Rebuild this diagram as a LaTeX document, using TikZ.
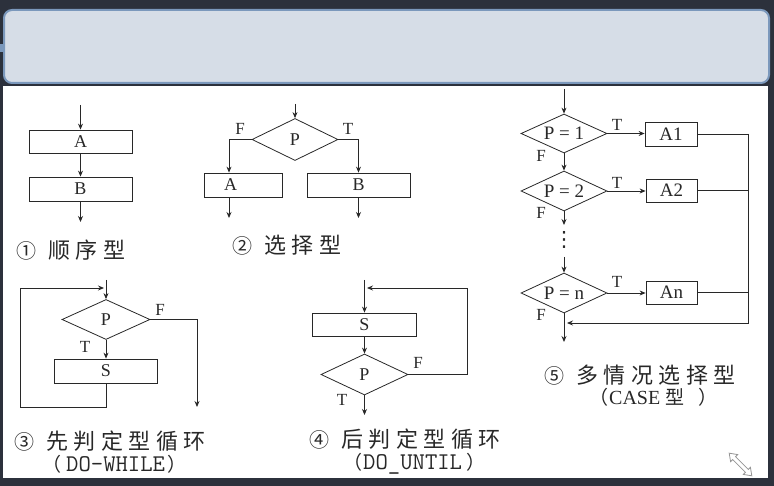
\documentclass[tikz,border=0pt]{standalone}
\usepackage{fontspec}
\usetikzlibrary{arrows.meta, shapes.geometric}
\setmainfont{Liberation Serif}
\newfontfamily\cjk[LetterSpace = 25]{Noto Sans CJK SC}
\newfontfamily\cjkplain{Noto Sans CJK SC}
\newfontfamily\sym{DejaVu Sans}
\definecolor{slate}{RGB}{44, 49, 60}
\definecolor{barfill}{RGB}{214, 221, 231}
\definecolor{barline}{RGB}{123, 152, 188}
\definecolor{ink}{RGB}{40, 40, 40}
\definecolor{iconline}{RGB}{150, 150, 150}
\newcommand{\circnum}[1]{{\cjkplain\fontsize{20}{20}\selectfont #1}\hspace{12pt}}

\begin{document}
\begin{tikzpicture}[x = 1pt, y = -1pt,
        wire/.style = {draw = ink, line width = 0.8pt},
        flow/.style = {wire, -{Stealth[length = 6pt, width = 5pt, inset = 2pt]}},
        box/.style = {wire, rectangle, inner sep = 0pt, minimum height = 24pt, text = ink, font = \fontsize{18}{18}\selectfont},
        test/.style = {wire, diamond, aspect = 2.2, inner sep = 0pt, minimum width = 86pt, minimum height = 40pt, text = ink, font = \fontsize{18}{18}\selectfont},
        tf/.style = {inner sep = 0pt, text = ink, font = \fontsize{17}{17}\selectfont},
        tag/.style = {anchor = west, inner sep = 0pt, text = ink, font = \cjk\fontsize{22}{22}\selectfont},
        note/.style = {anchor = west, inner sep = 0pt, text = ink, font = \fontsize{19}{19}\selectfont}]

                \fill [slate] (0, 0) rectangle (774, 486);
                \useasboundingbox (0, 0) rectangle (774, 486);
                \fill [barline] (0, 44) rectangle (3, 52);
                \draw [fill = barfill, draw = barline, line width = 2pt, rounded corners = 8pt] (4, 10) rectangle (769, 83);
                \fill [white] (3, 86) rectangle (768, 478);

                \node [box, minimum width = 103pt, minimum height = 23pt] (seqA) at (80.5, 141.5) {A};
                \node [box, minimum width = 103pt] (seqB) at (80.5, 189) {B};
                \coordinate (seqIn) at (80.5, 105);
                \coordinate (seqOut) at (80.5, 222);
                \draw [flow] (seqIn) -- (seqA);
                \draw [flow] (seqA) -- (seqB);
                \draw [flow] (seqB) -- (seqOut);
                \node [tag] (seqTag) at (16, 250) {\circnum{①}顺序型};

                \node [test, minimum height = 42pt] (selP) at (295, 139.5) {P};
                \node [box, text width = 78pt, align = left] (selA) at (243, 185) {\hspace{20pt}A};
                \node [box, minimum width = 103pt] (selB) at (358.5, 185) {B};
                \coordinate (selIn) at (295, 104);
                \coordinate (selLeft) at (229, 218);
                \coordinate (selRight) at (358.5, 218);
                \draw [flow] (selIn) -- (selP);
                \draw [flow] (selP.west) -| (selLeft |- selA.north);
                \draw [flow] (selP.east) -| (selB.north);
                \draw [flow] (selLeft |- selA.south) -- (selLeft);
                \draw [flow] (selB) -- (selRight);
                \node [tf] (selF) at (240, 129) {F};
                \node [tf] (selT) at (348, 129) {T};
                \node [tag] (selTag) at (232, 245) {\circnum{②}选择型};

                \node [test, minimum width = 88pt] (whP) at (106, 319.5) {P};
                \node [box, minimum width = 103pt] (whS) at (106, 371) {S};
                \coordinate (whIn) at (106, 280);
                \coordinate (whLeft) at (20, 407);
                \coordinate (whTop) at (20, 288);
                \coordinate (whJoin) at (104, 288);
                \coordinate (whOut) at (197, 407);
                \draw [flow] (whIn) -- (whP);
                \draw [flow] (whP) -- (whS);
                \draw [flow] (whS.south) |- (whLeft) -- (whTop) -- (whJoin);
                \draw [flow] (whP.east) -| (whOut);
                \node [tf] (whF) at (160, 310) {F};
                \node [tf] (whT) at (85, 347) {T};
                \node [tag] (whTag) at (14, 441) {\circnum{③}先判定型循环};
                \node [note] (whNote) at (42, 464) {{\cjkplain （}\hspace{5pt}{\ttfamily\fontsize{24}{24}\selectfont DO-WHILE}\hspace{2pt}{\cjkplain ）}};

                \node [box, minimum width = 104pt, minimum height = 23pt] (unS) at (364.5, 324.5) {S};
                \node [test, minimum width = 87pt, minimum height = 41pt] (unP) at (364.5, 374.5) {P};
                \coordinate (unIn) at (364.5, 280);
                \coordinate (unTurn) at (467, 288);
                \coordinate (unJoin) at (367, 288);
                \coordinate (unOut) at (364.5, 415);
                \draw [flow] (unIn) -- (unS);
                \draw [flow] (unS) -- (unP);
                \draw [flow] (unP.east) -| (unTurn) -- (unJoin);
                \draw [flow] (unP) -- (unOut);
                \node [tf] (unF) at (418, 363) {F};
                \node [tf] (unT) at (342, 400) {T};
                \node [tag] (unTag) at (309, 439) {\circnum{④}后判定型循环};
                \node [note] (unNote) at (343, 464) {{\cjkplain （}\hspace{1pt}{\ttfamily\fontsize{24}{24}\selectfont DO\_UNTIL}\hspace{4pt}{\cjkplain ）}};

                \node [test, minimum height = 39pt, font = \fontsize{19}{19}\selectfont] (caP1) at (564, 133.5) {P = 1};
                \node [test, font = \fontsize{19}{19}\selectfont] (caP2) at (564, 191) {P = 2};
                \node [test, font = \fontsize{19}{19}\selectfont] (caPn) at (564, 293) {P = n};
                \node [box, minimum width = 52pt, font = \fontsize{19}{19}\selectfont] (caA1) at (671, 134) {A1};
                \node [box, minimum width = 51pt, minimum height = 23pt, font = \fontsize{19}{19}\selectfont] (caA2) at (671.5, 190.5) {A2};
                \node [box, minimum width = 51pt, minimum height = 23pt, font = \fontsize{19}{19}\selectfont] (caAn) at (671.5, 292.5) {An};
                \node [inner sep = 0pt, text = ink, font = \sym\fontsize{21}{21}\selectfont] (caDots) at (564, 240) {⋮};
                \coordinate (caIn) at (564, 89);
                \coordinate (caGap) at (564, 225);
                \coordinate (caResume) at (564, 257);
                \coordinate (caRight) at (748, 134);
                \coordinate (caCorner) at (748, 323);
                \coordinate (caJoin) at (567, 323);
                \coordinate (caOut) at (564, 342);
                \draw [flow] (caIn) -- (caP1);
                \draw [flow] (caP1) -- (caP2);
                \draw [flow] (caP2) -- (caGap);
                \draw [flow] (caResume) -- (caPn);
                \draw [flow] (caPn) -- (caOut);
                \foreach \k/\t/\f in {1/125/156, 2/183/213, n/282/315} {
                \draw [flow] (caP\k.east) -- (caP\k.east -| caA\k.west);
                \draw [wire] (caA\k.east) -- (caA\k.east -| caRight);
                \node [tf] (caT\k) at (617, \t) {T};
                \node [tf] (caF\k) at (541, \f) {F};
                }
                \draw [flow] (caRight) -- (caCorner) -- (caJoin);
                \node [tag] (caTag) at (544, 375) {\circnum{⑤}多情况选择型};
                \node [note] (caNote) at (589, 397) {{\cjkplain （}\hspace{1pt}{\fontsize{20}{20}\selectfont CASE}\hspace{5pt}{\cjkplain 型\hspace{14pt}）}};

                \begin{scope}[shift = {(740.5, 464.5)}, rotate = -45]
                \draw [fill = white, draw = iconline, line width = 0.8pt] (-16, 0) -- (-9, 5) -- (-9, 2) -- (9, 2) -- (9, 5) -- (16, 0) -- (9, -5) -- (9, -2) -- (-9, -2) -- (-9, -5) -- cycle;
                \end{scope}
\end{tikzpicture}
\end{document}
